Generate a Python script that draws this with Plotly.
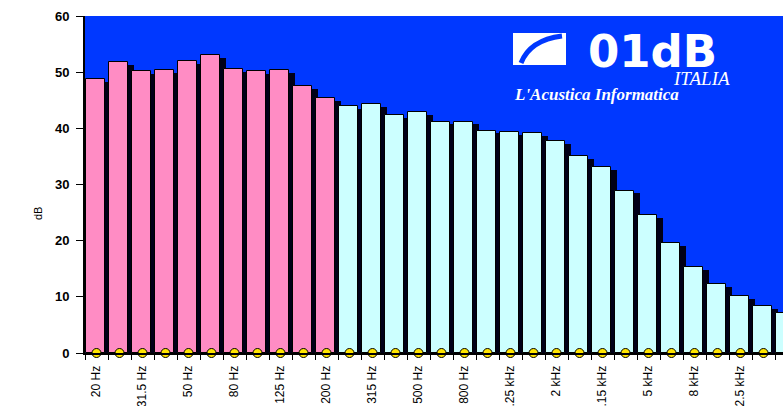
import plotly.graph_objects as go

# ---- data ----
bands = ["20 Hz", "25 Hz", "31.5 Hz", "40 Hz", "50 Hz", "63 Hz", "80 Hz", "100 Hz",
         "125 Hz", "160 Hz", "200 Hz", "250 Hz", "315 Hz", "400 Hz", "500 Hz", "630 Hz",
         "800 Hz", "1 kHz", "1.25 kHz", "1.6 kHz", "2 kHz", "2.5 kHz", "3.15 kHz",
         "4 kHz", "5 kHz", "6.3 kHz", "8 kHz", "10 kHz", "12.5 kHz", "16 kHz", "20 kHz"]
levels_db = [48.7, 51.8, 50.2, 50.4, 52.0, 53.1, 50.6, 50.2, 50.4, 47.5, 45.4,
             44.0, 44.3, 42.3, 42.9, 41.2, 41.2, 39.6, 39.4, 39.2, 37.7, 35.1, 33.1,
             28.9, 24.6, 19.5, 15.3, 12.3, 10.1, 8.4, 7.1]
low_count = 11  # 20 Hz .. 200 Hz drawn pink
y_ticks = [0, 10, 20, 30, 40, 50, 60]

idx = list(range(len(bands)))
colors = ["#FF8CC4" if i < low_count else "#CCFFFF" for i in idx]
label_idx = idx[::2]
label_txt = [bands[i] for i in label_idx]

W, H = 783, 406
ML, MR, MT, MB = 85, 0, 16, 53
PW, PH = W - ML - MR, H - MT - MB


def px(x):
    return (x - ML) / PW


def py(y):
    return (H - MB - y) / PH


fig = go.Figure()
# shadow bars
fig.add_trace(go.Bar(
    x=idx, y=[v - 0.5 for v in levels_db], width=0.82, offset=-0.41 + 0.22,
    marker=dict(color="#000018", line=dict(width=0)), hoverinfo="skip", showlegend=False))
# main bars
fig.add_trace(go.Bar(
    x=idx, y=levels_db, width=0.82, offset=-0.44,
    marker=dict(color=colors, line=dict(color="#000000", width=1)), showlegend=False))
# yellow dots on axis
fig.add_trace(go.Scatter(
    x=idx, y=[0] * len(idx), mode="markers", cliponaxis=False,
    marker=dict(color="#FFE400", size=9, line=dict(color="#000000", width=1)),
    hoverinfo="skip", showlegend=False))

fig.update_layout(
    width=W, height=H, margin=dict(l=ML, r=MR, t=MT, b=MB, autoexpand=False),
    paper_bgcolor="white", plot_bgcolor="#0038FF",
    barmode="overlay", bargap=0,
    font=dict(family="Liberation Sans, Arial, sans-serif", color="black"),
    xaxis=dict(range=[-0.5, -0.5 + PW / 23.0], tickmode="array", tickvals=label_idx,
               ticktext=label_txt, tickangle=-90, ticks="", showgrid=False,
               zeroline=False, showline=True, linecolor="black", linewidth=2,
               automargin=False,
               tickfont=dict(family="Liberation Sans Narrow, Arial Narrow, Liberation Sans, sans-serif", size=12),
               ticklabelstandoff=6,
               minor=dict(tickmode="linear", tick0=0.5, dtick=1, ticks="outside",
                          ticklen=5, tickcolor="black", tickwidth=1, showgrid=False)),
    yaxis=dict(range=[0, 60], tickmode="array", tickvals=y_ticks, ticks="outside",
               ticklen=7, tickcolor="black", tickwidth=1, showgrid=False, zeroline=False,
               showline=True, linecolor="black", linewidth=2, automargin=False,
               tickfont=dict(family="Liberation Sans, Arial, sans-serif", size=13, color="black",
                             weight="bold"),
               ticklabelstandoff=4),
)

# y-axis title
fig.add_annotation(text="dB", xref="paper", yref="paper", x=px(30), y=py(214),
                   textangle=-90, showarrow=False, font=dict(size=11, color="black"))

# logo: white box with blue swoosh
fig.add_shape(type="rect", xref="paper", yref="paper", x0=px(513), x1=px(566),
              y0=py(65), y1=py(33), fillcolor="white", line=dict(width=0), layer="above")
fig.add_shape(type="path", xref="paper", yref="paper",
              path=f"M {px(521)},{py(63)} Q {px(530)},{py(40)} {px(562)},{py(36)}",
              line=dict(color="#0038FF", width=5), layer="above")
fig.add_annotation(text="<b>01dB</b>", xref="paper", yref="paper", x=px(652), y=py(66),
                   showarrow=False, xanchor="center", yanchor="bottom", yshift=-14,
                   font=dict(family="DejaVu Sans, sans-serif", size=45, color="white"))
fig.add_annotation(text="<i>ITALIA</i>", xref="paper", yref="paper", x=px(732), y=py(78),
                   showarrow=False, xanchor="right", yanchor="middle",
                   font=dict(family="Liberation Serif, serif", size=19, color="white"))
fig.add_annotation(text="<b><i>L'Acustica Informatica</i></b>", xref="paper", yref="paper",
                   x=px(512), y=py(94), showarrow=False, xanchor="left", yanchor="middle",
                   font=dict(family="Liberation Serif, serif", size=17, color="white"))

fig.write_html("out.html", config={"displayModeBar": False},
               post_script="document.body.style.margin='0';")
